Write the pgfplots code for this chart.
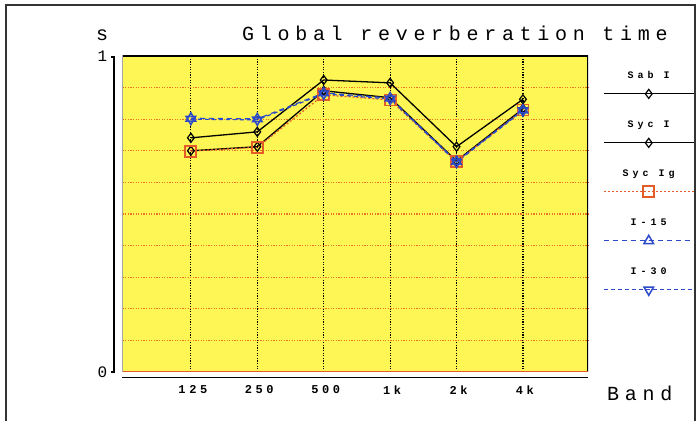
\documentclass[border=0pt]{standalone}
\usepackage{fontspec}
\usepackage{pgfplots}
\pgfplotsset{compat=1.18}
\setmainfont{Liberation Mono}
\newfontfamily\titlefont[LetterSpace=28.5]{Liberation Mono}
\newfontfamily\tickfont[LetterSpace=30]{Liberation Mono}
\newfontfamily\legfont[LetterSpace=40]{Liberation Mono}
\definecolor{plotyellow}{RGB}{253,246,84}
\definecolor{gridorange}{RGB}{235,115,35}
\definecolor{serorange}{RGB}{228,92,40}
\definecolor{serblue}{RGB}{45,75,200}
\pgfplotsset{
  legtext/.style={legend image code/.code={%
     \path[draw=none, fill=none] (0pt,-7pt) rectangle (90pt,25pt);
     \node[anchor=base, inner sep=0pt, draw=none, fill=none, text=black, font=\legfont\fontsize{10}{10}\selectfont\bfseries] at (45pt,15.5pt) {#1};
     \draw[mark repeat=2,mark phase=2,##1] plot coordinates {(0pt,0pt) (45pt,0pt) (90pt,0pt)};}},
}
\begin{document}
\begin{tikzpicture}[x=1pt,y=1pt]
\useasboundingbox (0,0) rectangle (697,421);
\draw[line width=2.2pt, black!80] (6,0) -- (6,416) -- (695,416) -- (695,0);
\node[anchor=base, font=\titlefont\fontsize{20}{20}\selectfont] at (102,380) {s};
\node[anchor=base west, inner sep=0pt, font=\titlefont\fontsize{20}{20}\selectfont] at (242,380) {Global reverberation time};
\node[anchor=base west, inner sep=0pt, font=\titlefont\fontsize{20}{20}\selectfont] at (607,20) {Band};
\draw[line width=1.2pt] (111,364) -- (114,364) -- (114,49) -- (111,49);
\draw[line width=1.5pt] (122,43.3) -- (588,43.3);
\begin{axis}[
  at={(122.5pt,49pt)}, anchor=south west, scale only axis,
  width=465.5pt, height=316pt,
  xmin=-0.03, xmax=6.98, ymin=0, ymax=1,
  axis background/.style={fill=plotyellow},
  axis line style={draw=none},
  xtick={1,2,3,4,5,6}, xticklabels={125,250,500,1k,2k,4k},
  xticklabel style={anchor=center, yshift=-18pt, xshift=2pt, font=\tickfont\fontsize{12}{12}\selectfont\bfseries},
  ytick={0,1}, yticklabels={0,1},
  yticklabel style={anchor=east, inner sep=0pt, xshift=-15pt, font=\fontsize{16}{16}\selectfont},
  minor ytick={0.1,0.2,0.3,0.4,0.5,0.6,0.7,0.8,0.9},
  xmajorgrids, ymajorgrids=false, yminorgrids,
  major x grid style={black, line width=1.2pt, dash pattern=on 1.2pt off 1.4pt},
  minor y grid style={gridorange, line width=1.2pt, dash pattern=on 1.2pt off 1.4pt},
  major tick length=0pt, minor tick length=0pt,
  tick style={draw=none},
  legend style={at={(axis description cs:1.032,0.96)}, anchor=north west, draw=none, fill=none,
     row sep=17pt, column sep=0pt, inner sep=0pt, nodes={inner sep=0pt}},
]
\addplot[black, line width=1.3pt, mark=diamond, mark size=4.5pt, mark options={solid, line width=1.2pt}, legtext={Sab I}]
  coordinates {(1,0.741) (2,0.760) (3,0.924) (4,0.915) (5,0.713) (6,0.863)};
\addlegendentry{}
\addplot[black, line width=1.3pt, mark=diamond, mark size=4.5pt, mark options={solid, line width=1.2pt}, legtext={Syc I}]
  coordinates {(1,0.700) (2,0.713) (3,0.890) (4,0.868) (5,0.668) (6,0.833)};
\addlegendentry{}
\addplot[serorange, line width=1.2pt, dash pattern=on 2pt off 2pt, mark=square, mark size=5.5pt, mark options={solid, line width=1.8pt}, legtext={Syc Ig}]
  coordinates {(1,0.699) (2,0.711) (3,0.877) (4,0.861) (5,0.666) (6,0.829)};
\addlegendentry{}
\addplot[serblue, line width=1.2pt, dash pattern=on 5pt off 4pt, mark=triangle, mark size=5.5pt, mark options={solid, line width=1.5pt}, legtext={I-15}]
  coordinates {(1,0.803) (2,0.801) (3,0.883) (4,0.867) (5,0.666) (6,0.829)};
\addlegendentry{}
\addplot[serblue, line width=1.2pt, dash pattern=on 4pt off 3pt, mark=triangle, mark size=5.5pt, mark options={solid, line width=1.5pt, rotate=180}, legtext={I-30}]
  coordinates {(1,0.800) (2,0.798) (3,0.880) (4,0.864) (5,0.664) (6,0.827)};
\addlegendentry{}
\draw[black, line width=1.5pt] (rel axis cs:0,0) -- (rel axis cs:0,1) -- (rel axis cs:1,1) -- (rel axis cs:1,0);
\draw[serorange, line width=1.5pt] (rel axis cs:0,0) -- (rel axis cs:1,0);
\end{axis}
\end{tikzpicture}
\end{document}
